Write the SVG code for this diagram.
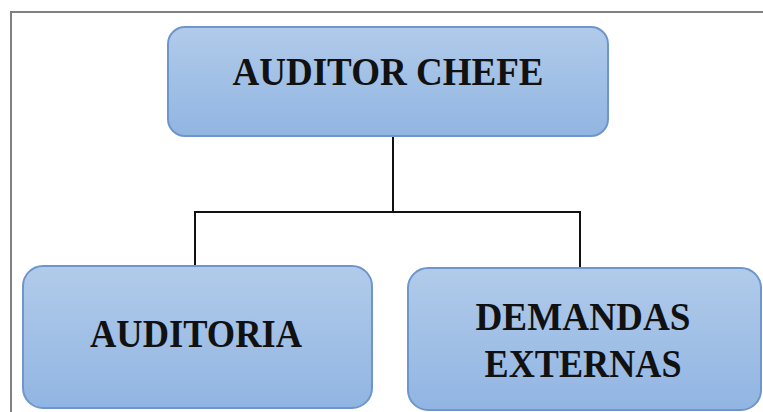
<svg xmlns="http://www.w3.org/2000/svg" width="763" height="412" viewBox="0 0 763 412">
<style>
.box{fill:url(#g);stroke:#6f96cc;stroke-width:2}
.lbl{font-family:"Liberation Serif","Times New Roman",serif;font-weight:bold;font-size:41px;fill:#111;text-anchor:middle}
.conn{fill:none;stroke:#111;stroke-width:2}
</style>
<defs>
<linearGradient id="g" x1="0" y1="0" x2="0" y2="1">
<stop offset="0" stop-color="#b1cbea"/>
<stop offset="1" stop-color="#91b5e2"/>
</linearGradient>
</defs>
<rect width="763" height="412" fill="#fff"/>
<path d="M11,420 V12 H770" fill="none" stroke="#808080" stroke-width="2"/>
<g id="connectors">
<path class="conn" d="M393,136 V212"/>
<path class="conn" d="M195,266 V212 H580 V268"/>
</g>
<g id="auditor-chefe">
<rect class="box" x="168" y="27" width="440" height="109" rx="17"/>
<text class="lbl" x="388" y="85" textLength="311" lengthAdjust="spacingAndGlyphs">AUDITOR CHEFE</text>
</g>
<g id="auditoria">
<rect class="box" x="23" y="266" width="349" height="142" rx="20"/>
<text class="lbl" x="196" y="347" textLength="212" lengthAdjust="spacingAndGlyphs">AUDITORIA</text>
</g>
<g id="demandas-externas">
<rect class="box" x="408" y="268" width="353" height="142" rx="20"/>
<text class="lbl" x="583" y="330" textLength="215" lengthAdjust="spacingAndGlyphs">DEMANDAS</text>
<text class="lbl" x="583" y="377" textLength="197" lengthAdjust="spacingAndGlyphs">EXTERNAS</text>
</g>
</svg>
